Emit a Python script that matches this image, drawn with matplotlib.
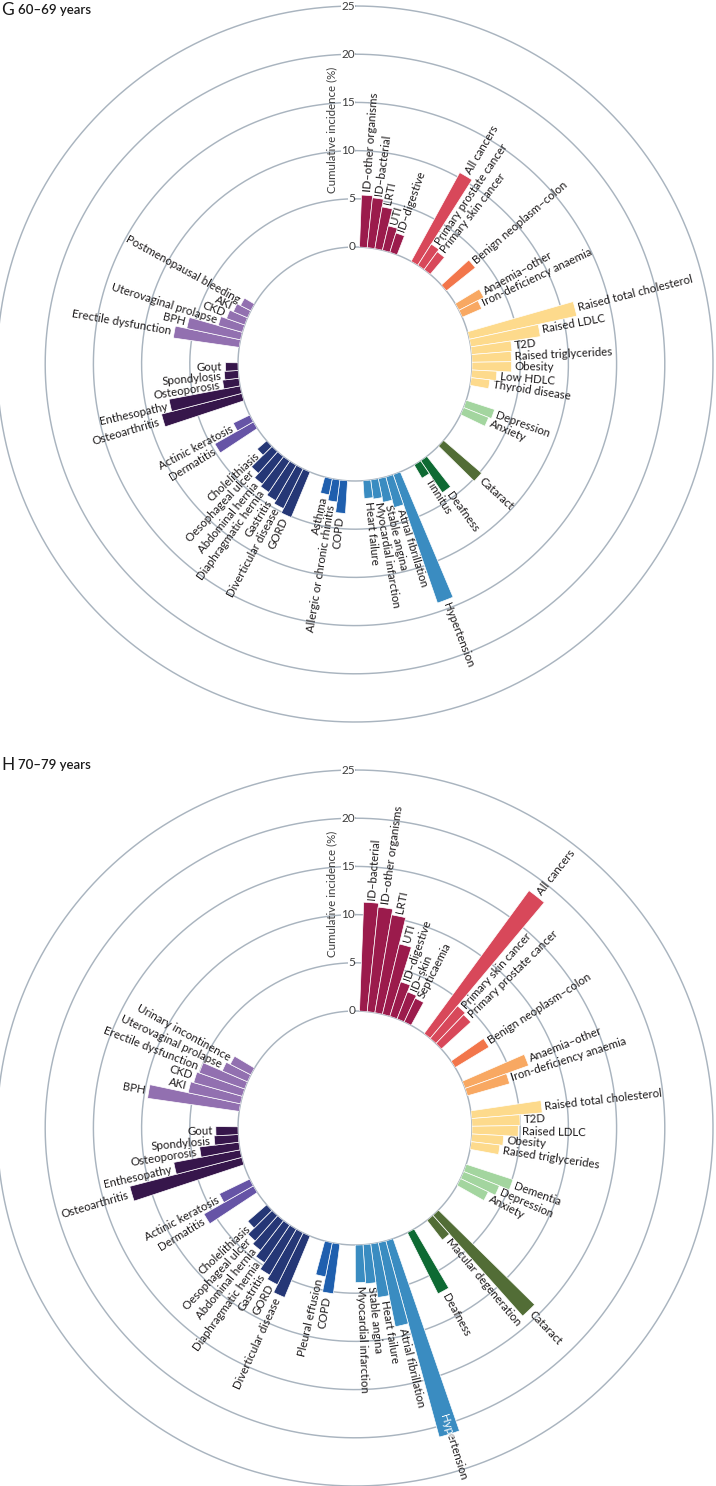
import numpy as np
import matplotlib.pyplot as plt

plt.rcParams['font.family'] = ['Lato', 'DejaVu Sans']

# body-system groups (same order in both panels)
group_names = ["Infections", "Cancers", "Benign neoplasms", "Anaemias", "Endocrine",
               "Mental health", "Eye", "Ear", "Circulatory", "Respiratory",
               "Digestive", "Skin", "Musculoskeletal", "Genitourinary"]
group_colors = ["#9b1b4c", "#d8485a", "#f2764b", "#f8a862", "#fdda8c",
                "#a3d59f", "#526d36", "#0e6a33", "#3a8cc1", "#1f5fae",
                "#253776", "#6654a6", "#36164b", "#9270b0"]

# panel G: 60-69 years
g_sizes = [5, 3, 1, 2, 7, 2, 1, 2, 5, 3, 7, 2, 5, 6]
g_labels = ["ID–other organisms", "ID–bacterial", "LRTI", "UTI", "ID–digestive",
            "All cancers", "Primary prostate cancer", "Primary skin cancer",
            "Benign neoplasm–colon",
            "Anaemia–other", "Iron-deficiency anaemia",
            "Raised total cholesterol", "Raised LDLC", "T2D", "Raised triglycerides",
            "Obesity", "Low HDLC", "Thyroid disease",
            "Depression", "Anxiety",
            "Cataract",
            "Deafness", "Tinnitus",
            "Hypertension", "Atrial fibrillation", "Stable angina",
            "Myocardial infarction", "Heart failure",
            "COPD", "Allergic or chronic rhinitis", "Asthma",
            "GORD", "Diverticular disease", "Gastritis", "Diaphragmatic hernia",
            "Abdominal hernia", "Oesophageal ulcer", "Cholelithiasis",
            "Dermatitis", "Actinic keratosis",
            "Osteoarthritis", "Enthesopathy", "Osteoporosis", "Spondylosis", "Gout",
            "Erectile dysfunction", "BPH", "Uterovaginal prolapse", "CKD", "AKI",
            "Postmenopausal bleeding"]
g_values = [5.4, 5.2, 4.4, 2.6, 2.1,
            10.5, 2.6, 2.3,
            3.85,
            2.9, 2.2,
            11.4, 7.3, 4.2, 4.1, 4.1, 2.6, 1.95,
            3.1, 2.8,
            5.2,
            4.0, 1.6,
            14.1, 3.3, 2.5, 2.0, 1.85,
            3.4, 2.3, 1.7,
            5.1, 4.6, 4.25, 3.9, 3.6, 3.0, 1.3,
            4.6, 1.9,
            8.6, 7.5, 1.7, 1.45, 1.3,
            6.9, 5.7, 2.6, 2.0, 1.6, 1.2]

# panel H: 70-79 years
h_sizes = [7, 3, 1, 2, 5, 3, 2, 1, 5, 2, 7, 2, 5, 6]
h_labels = ["ID–bacterial", "ID–other organisms", "LRTI", "UTI", "ID–digestive",
            "ID–skin", "Septicaemia",
            "All cancers", "Primary skin cancer", "Primary prostate cancer",
            "Benign neoplasm–colon",
            "Anaemia–other", "Iron-deficiency anaemia",
            "Raised total cholesterol", "T2D", "Raised LDLC", "Obesity",
            "Raised triglycerides",
            "Dementia", "Depression", "Anxiety",
            "Cataract", "Macular degeneration",
            "Deafness",
            "Hypertension", "Atrial fibrillation", "Heart failure", "Stable angina",
            "Myocardial infarction",
            "COPD", "Pleural effusion",
            "Diverticular disease", "GORD", "Gastritis", "Diaphragmatic hernia",
            "Abdominal hernia", "Oesophageal ulcer", "Cholelithiasis",
            "Dermatitis", "Actinic keratosis",
            "Osteoarthritis", "Enthesopathy", "Osteoporosis", "Spondylosis", "Gout",
            "BPH", "AKI", "CKD", "Erectile dysfunction", "Uterovaginal prolapse",
            "Urinary incontinence"]
h_values = [11.3, 10.9, 10.3, 7.5, 3.75, 3.0, 2.7,
            18.4, 4.4, 4.15,
            4.1,
            7.0, 4.55,
            7.35, 5.0, 4.8, 3.3, 3.0,
            5.1, 4.0, 3.2,
            14.0, 2.6,
            7.1,
            21.1, 8.9, 5.6, 4.05, 3.9,
            5.2, 3.6,
            6.9, 6.0, 5.5, 4.7, 3.9, 3.5, 2.6,
            5.9, 3.5,
            12.0, 7.0, 4.1, 2.5, 2.3,
            9.6, 5.55, 5.25, 5.0, 2.85, 2.4]

ring_ticks = [0, 5, 10, 15, 20, 25]

# ---- layout (pixels of the 716x1486 output) ----
W, H = 716, 1486
PX_UNIT = 9.64          # pixels per percentage point
HOLE_PX = 117           # radius of the "0" circle
SLOT_DEG = 3.78         # angular width of one bar
FIRST_DEG = 4.1         # centre of the first bar, clockwise from top
GAPS = [2, 2, 2, 2, 2, 4, 2, 2, 2, 2, 2, 2, 2]   # empty slots between groups
RING = "#a9b4bf"
TXT = "#1e1b1c"
FS = 8.3

fig = plt.figure(figsize=(W / 100, H / 100), dpi=100)


def slots(sizes):
    pos, k = [], 0
    for i, n in enumerate(sizes):
        pos += list(range(k, k + n))
        k += n
        if i < len(GAPS):
            k += GAPS[i]
    return np.array(pos)


def panel(cy, title_y, letter, years, sizes, labels, values, inside_labels=()):
    rout = HOLE_PX + ring_ticks[-1] * PX_UNIT
    ax = fig.add_axes([(355 - rout) / W, (H - cy - rout) / H, 2 * rout / W, 2 * rout / H],
                      projection='polar')
    ax.set_theta_zero_location('N')
    ax.set_theta_direction(-1)
    ax.set_rorigin(-HOLE_PX / PX_UNIT)
    ax.set_ylim(0, ring_ticks[-1])
    ax.set_axis_off()

    tt = np.linspace(0, 2 * np.pi, 500)
    for r in ring_ticks:
        ax.plot(tt, np.full_like(tt, r), color=RING, lw=1.05, zorder=0.5, clip_on=False)
        ax.text(0, r, str(r), ha='right', va='center', fontsize=8.5, color='#3c3c3c',
                zorder=5, bbox=dict(facecolor='white', edgecolor='none', pad=0.3))
    ax.text(np.deg2rad(-5.6), 12.3, "Cumulative incidence (%)", rotation=90,
            ha='center', va='center', fontsize=FS, color='#3c3c3c')

    deg = FIRST_DEG + slots(sizes) * SLOT_DEG
    cols = np.repeat(group_colors, sizes)
    bars = ax.bar(np.deg2rad(deg), values, width=np.deg2rad(SLOT_DEG), bottom=0,
                  color=cols, edgecolor='white', linewidth=0.5, zorder=2)

    for i, (d, v, lab) in enumerate(zip(deg, values, labels)):
        if d < 180:
            rot, ha = 90 - d, 'left'
        else:
            rot, ha = 270 - d, 'right'
        r = v + 0.35
        if lab in inside_labels:
            # label pulled back into the bar so it fits the page
            r = v - 2.2
            tw = ax.text(np.deg2rad(d), r, lab, rotation=rot, rotation_mode='anchor',
                         ha=ha, va='center', fontsize=FS, color='white', zorder=4)
            tw.set_clip_on(True)
            tw.set_clip_path(bars[i])
        ax.text(np.deg2rad(d), r, lab, rotation=rot, rotation_mode='anchor',
                ha=ha, va='center', fontsize=FS, color=TXT, zorder=1)

    yt = 1 - title_y / H
    fig.text(1 / W, yt, letter, fontsize=12.5, va='center', ha='left', color='#1a1a1a')
    fig.text(18 / W, yt, years, fontsize=9.5, va='center', ha='left',
             fontweight='semibold', color='#1a1a1a')


panel(364, 10, "G", "60–69 years", g_sizes, g_labels, g_values)
panel(1128, 765, "H", "70–79 years", h_sizes, h_labels, h_values,
      inside_labels=("Hypertension",))

fig.savefig("out.png", dpi=100, facecolor='white')
